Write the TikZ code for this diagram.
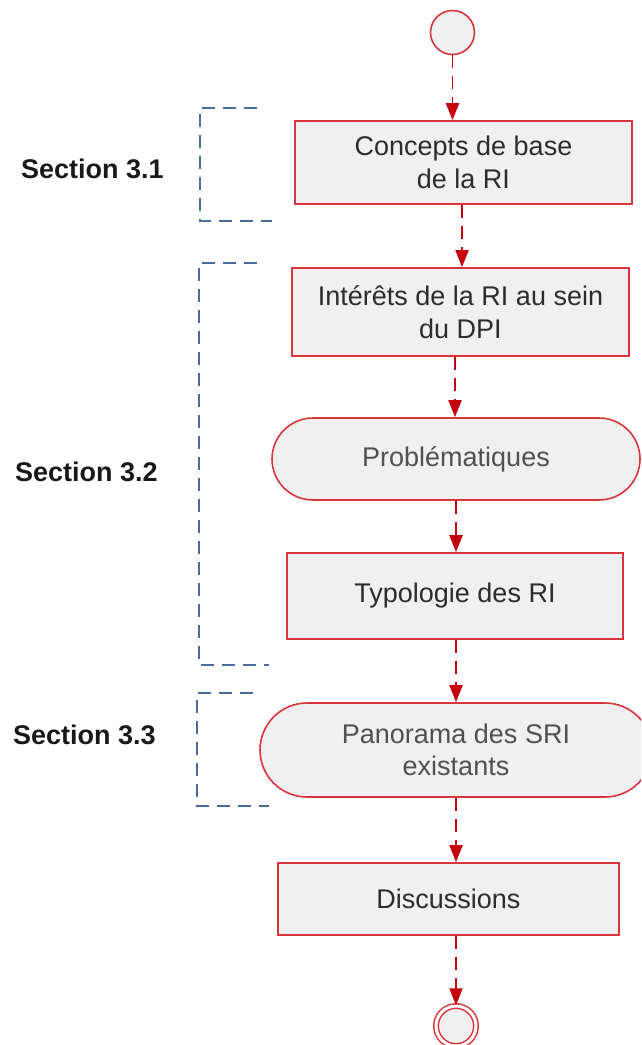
\documentclass[tikz,border=0pt]{standalone}
\usepackage{fontspec}
\setmainfont{Liberation Sans}
\usetikzlibrary{arrows.meta}

\definecolor{edgered}{HTML}{D8343C}
\definecolor{flowred}{HTML}{C4000C}
\definecolor{boxfill}{HTML}{F0F0F0}
\definecolor{bracketblue}{HTML}{4A6C9C}
\definecolor{darktext}{HTML}{2C2C2C}
\definecolor{softtext}{HTML}{505050}

\tikzset{
  txt/.style={font=\fontsize{27}{32.4}\selectfont, align=center, inner sep=0pt},
  stepbox/.style={txt, draw=edgered, line width=1.6pt, fill=boxfill,
                  text=darktext, rectangle},
  termbox/.style={txt, draw=edgered, line width=1.6pt, fill=boxfill,
                  text=softtext, rectangle},
  startdot/.style={circle, draw=edgered, line width=1.6pt, fill=boxfill,
                   minimum size=44pt, inner sep=0pt},
  enddot/.style={circle, draw=edgered, line width=1.5pt, fill=boxfill,
                 minimum size=40pt, inner sep=0pt,
                 double=white, double distance=3pt},
  flow/.style={draw=flowred, line width=1.9pt, dash pattern=on 13pt off 8pt,
               -{Triangle[width=13pt,length=17pt,fill=flowred]}},
  bracket/.style={draw=bracketblue, line width=1.8pt,
                  dash pattern=on 13pt off 8pt},
  seclabel/.style={font=\bfseries\fontsize{27}{32.4}\selectfont,
                   inner sep=0pt, anchor=west, text=black!90}
}

\begin{document}
\begin{tikzpicture}[x=1pt,y=-1pt]
  \useasboundingbox (0,0) rectangle (641,1045);
  \clip (0,0) rectangle (641,1045);

  % activity nodes
  \node[startdot] (start) at (452.5,32.5) {};
  \node[stepbox, minimum width=337pt, minimum height=83pt] (concepts)
       at (463.5,162.5) {Concepts de base\\de la RI};
  \node[stepbox, minimum width=337pt, minimum height=88pt] (interets)
       at (460.5,312) {Intérêts de la RI au sein\\du DPI};
  \node[termbox, minimum width=368pt, minimum height=82pt, rounded corners=41pt] (probl)
       at (456,459) {Problématiques};
  \node[stepbox, minimum width=336pt, minimum height=86pt] (typo)
       at (455,596) {Typologie des RI};
  \node[termbox, minimum width=392pt, minimum height=94pt, rounded corners=47pt] (pano)
       at (456,750) {Panorama des SRI\\existants};
  \node[stepbox, minimum width=341pt, minimum height=72pt] (disc)
       at (448.5,899) {Discussions};
  \node[enddot] (stop) at (456,1026) {};

  % control flow
  \draw[flow] (start.south) -- (start.south |- concepts.north);
  \draw[flow] ([xshift=-1.5pt]concepts.south) -- ([xshift=1.5pt]interets.north);
  \draw[flow] ([xshift=-5.5pt]interets.south) -- ([xshift=-1pt]probl.north);
  \draw[flow] (probl.south) -- ([xshift=1pt]typo.north);
  \draw[flow] ([xshift=1pt]typo.south) -- (pano.north);
  \draw[flow] (pano.south) -- ([xshift=7.5pt]disc.north);
  \draw[flow] ([xshift=7.5pt]disc.south) -- (stop.north);

  % section brackets
  \draw[bracket] (257,108) -- (200,108) -- (200,221) -- (272,221);
  \draw[bracket] (257,263) -- (199,263) -- (199,665) -- (269,665);
  \draw[bracket] (253,693) -- (197,693) -- (197,806) -- (269,806);

  % section labels
  \node[seclabel] (s31) at (21,169) {Section 3.1};
  \node[seclabel] (s32) at (15,472) {Section 3.2};
  \node[seclabel] (s33) at (13,735) {Section 3.3};
\end{tikzpicture}
\end{document}
